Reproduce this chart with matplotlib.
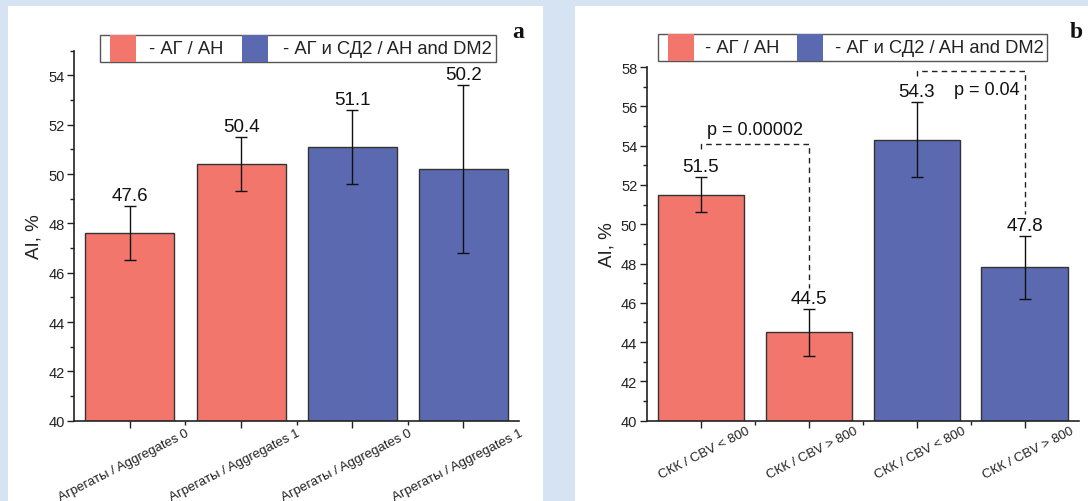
import numpy as np
import matplotlib
matplotlib.use("Agg")
import matplotlib.pyplot as plt
from matplotlib.patches import Rectangle
from matplotlib.ticker import MultipleLocator, FixedLocator

plt.rcParams['font.family'] = ['Liberation Sans', 'DejaVu Sans']

# panel a
labels_a = ["Агрегаты / Aggregates 0", "Агрегаты / Aggregates 1",
            "Агрегаты / Aggregates 0", "Агрегаты / Aggregates 1"]
values_a = [47.6, 50.4, 51.1, 50.2]
errors_a = [1.1, 1.1, 1.5, 3.4]

# panel b
labels_b = ["СКК / CBV < 800", "СКК / CBV > 800", "СКК / CBV < 800", "СКК / CBV > 800"]
values_b = [51.5, 44.5, 54.3, 47.8]
errors_b = [0.9, 1.2, 1.9, 1.6]

legend_labels = ["- АГ / АН", "- АГ и СД2 / AH and DM2"]
RED = "#f2766c"
BLUE = "#5b69b0"
colors = [RED, RED, BLUE, BLUE]

W, H = 1088, 502
fig = plt.figure(figsize=(W / 100, H / 100), dpi=100)
fig.patch.set_facecolor("#d6e3f3")


def fx(x):
    return x / W


def fy(y):
    return 1 - y / H


# white panels (behind the axes)
fig.patches.append(Rectangle((fx(8), 0), fx(543) - fx(8), fy(7), transform=fig.transFigure,
                             facecolor="white", edgecolor="none", zorder=-5))
fig.patches.append(Rectangle((fx(575), 0), 1 - fx(575), fy(7), transform=fig.transFigure,
                             facecolor="white", edgecolor="none", zorder=-5))


def draw_panel(ax, labels, values, errors, ylim, label_dx, label_dy):
    x = np.arange(len(values))
    ax.bar(x, values, width=0.8, color=colors, edgecolor="#333333", linewidth=1.0, zorder=2)
    ax.errorbar(x, values, yerr=errors, fmt="none", ecolor="#111111", elinewidth=1.0,
                capsize=4, capthick=1.0, zorder=3)
    for xi, v, e in zip(x, values, errors):
        ax.annotate(f"{v:.1f}", (xi, v + e), xytext=(0, 1.5), textcoords="offset points",
                    ha="center", va="bottom", fontsize=13.5, color="#111111")
    ax.set_xlim(-0.5, 3.5)
    ax.set_ylim(*ylim)
    ax.set_facecolor("none")
    for s in ["top", "right"]:
        ax.spines[s].set_visible(False)
    for s in ["left", "bottom"]:
        ax.spines[s].set_linewidth(1.2)
        ax.spines[s].set_color("#222222")
    ax.yaxis.set_major_locator(MultipleLocator(2))
    ax.yaxis.set_minor_locator(MultipleLocator(1))
    ax.xaxis.set_major_locator(FixedLocator(x))
    ax.xaxis.set_minor_locator(FixedLocator(x[:-1] + 0.5))
    ax.set_xticklabels([])
    ax.tick_params(which="major", direction="out", length=5, width=1.0, color="#222222",
                   labelsize=10.5, labelcolor="#222222")
    ax.tick_params(which="minor", direction="out", length=3, width=1.0, color="#222222")
    ax.tick_params(axis="y", pad=2)
    for xi, lab in zip(x, labels):
        ax.annotate(lab, (xi + label_dx, ylim[0]), xytext=(0, label_dy), textcoords="offset points",
                    rotation=27, rotation_mode="anchor", ha="right", va="top",
                    fontsize=9.5, color="#222222", annotation_clip=False)
    ax.set_ylabel("AI, %", fontsize=13.5, color="#222222")
    ax.yaxis.set_label_coords(-0.072, 0.5)


ax1 = fig.add_axes([fx(74.3), fy(421.7), fx(519) - fx(74.3), fy(51.7) - fy(421.7)])
draw_panel(ax1, labels_a, values_a, errors_a, (40, 55), 0.5, -4)

ax2 = fig.add_axes([fx(647), fy(421.7), fx(1078.6) - fx(647), fy(68) - fy(421.7)])
draw_panel(ax2, labels_b, values_b, errors_b, (40, 58), 0.42, -3)

# significance brackets
dash = dict(color="#222222", linewidth=1.0, linestyle=(0, (4, 3)), zorder=4)
ax2.plot([0, 0, 1, 1], [53.85, 54.1, 54.1, 46.75], **dash)
ax2.text(0.5, 54.6, "p = 0.00002", ha="center", va="baseline", fontsize=13, color="#111111")
ax2.plot([2, 2, 3, 3], [57.55, 57.8, 57.8, 50.5], **dash)
ax2.text(2.65, 56.65, "p = 0.04", ha="center", va="baseline", fontsize=13, color="#111111")


def draw_legend(x0, x1, y0, y1, red_x, text1_x, blue_x, text2_x):
    fig.patches.append(Rectangle((fx(x0), fy(y1)), fx(x1) - fx(x0), fy(y0) - fy(y1),
                                 transform=fig.transFigure, facecolor="white",
                                 edgecolor="#555555", linewidth=1.0, zorder=5))
    for px, c in [(red_x, RED), (blue_x, BLUE)]:
        fig.patches.append(Rectangle((fx(px), fy(y1)), fx(px + 26) - fx(px), fy(y0) - fy(y1),
                                     transform=fig.transFigure, facecolor=c,
                                     edgecolor="none", zorder=6))
    ym = fy((y0 + y1) / 2)
    for tx, t in [(text1_x, legend_labels[0]), (text2_x, legend_labels[1])]:
        fig.text(fx(tx), ym, t, ha="left", va="center", fontsize=13.2, color="#222222", zorder=7)


draw_legend(100, 496, 36, 63, 110, 149, 242, 283)
draw_legend(658, 1047, 35, 62, 668, 705, 797, 835)

fig.text(fx(518), fy(38), "a", ha="center", va="baseline", fontsize=17, fontweight="bold",
         family="Liberation Serif", color="#111111")
fig.text(fx(1076), fy(38), "b", ha="center", va="baseline", fontsize=17, fontweight="bold",
         family="Liberation Serif", color="#111111")

fig.savefig("out.png", dpi=100, facecolor=fig.get_facecolor())
